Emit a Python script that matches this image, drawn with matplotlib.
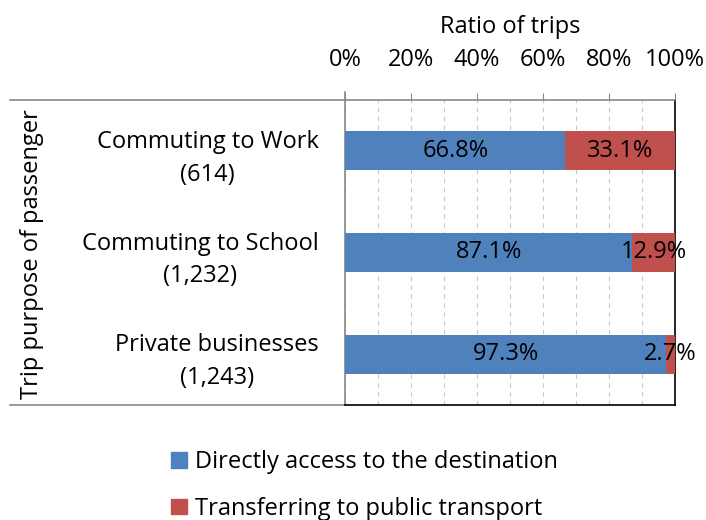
import matplotlib.pyplot as plt
from matplotlib.lines import Line2D
from matplotlib.patches import Patch
import numpy as np

categories = ["Commuting to Work\n(614)", "Commuting to School\n(1,232)", "Private businesses\n(1,243)"]
direct = [66.8, 87.1, 97.3]
transfer = [33.1, 12.9, 2.7]
series_names = ["Directly access to the destination", "Transferring to public transport"]
colors = ["#4F81BD", "#C0504D"]

plt.rcParams['font.family'] = ['Open Sans', 'DejaVu Sans']
fs = 17

fig = plt.figure(figsize=(7.06, 5.2), dpi=100)
ax = fig.add_axes([345 / 706, (520 - 405) / 520, 330 / 706, 305 / 520])

y = np.arange(len(categories))
h = 0.385
ax.barh(y, direct, height=h, color=colors[0], zorder=3)
ax.barh(y, transfer, left=direct, height=h, color=colors[1], zorder=3)

for i in range(len(categories)):
    ax.text(direct[i] / 2, y[i], f"{direct[i]:.1f}%", ha='center', va='center', fontsize=fs, zorder=4)
    ax.text(direct[i] + transfer[i] / 2, y[i], f"{transfer[i]:.1f}%", ha='center', va='center',
            fontsize=fs, zorder=4)

ax.set_xlim(0, 100)
ax.set_ylim(len(categories) - 0.5, -0.5)
ax.xaxis.tick_top()
ax.xaxis.set_label_position('top')
ax.set_xticks(np.arange(0, 101, 20))
ax.set_xticklabels([f"{v}%" for v in range(0, 101, 20)], fontsize=fs)
ax.set_xticks(np.arange(0, 101, 10), minor=True)
ax.tick_params(axis='x', which='major', length=5, color='#888888', pad=15)
ax.tick_params(axis='x', which='minor', length=0)
ax.grid(axis='x', which='both', linestyle=(0, (4, 4)), color='#C8C8C8', linewidth=0.8, zorder=0)
ax.set_xlabel("Ratio of trips", fontsize=fs, labelpad=11)

ax.set_yticks(y)
ax.set_yticklabels(categories, fontsize=fs, linespacing=1.5, ha='right', multialignment='center')
ax.tick_params(axis='y', length=0, pad=19)
fig.text(32 / 706, 1 - 254 / 520, "Trip purpose of passenger", rotation=90, fontsize=fs,
         ha='center', va='center')

ax.spines['top'].set_color('#888888')
ax.spines['left'].set_color('#888888')
ax.spines['right'].set_color('black')
ax.spines['bottom'].set_color('black')
for s in ax.spines.values():
    s.set_linewidth(1.2)

# table-like lines at the left
for yy in (0, 1):
    ax.add_line(Line2D([-1.015, 0], [yy, yy], transform=ax.transAxes, color='#888888',
                       linewidth=1.2, clip_on=False))
ax.add_line(Line2D([0, 0], [1, 1.025], transform=ax.transAxes, color='#888888',
                   linewidth=1.2, clip_on=False))

handles = [Patch(color=c) for c in colors]
fig.legend(handles, series_names, loc='upper left', bbox_to_anchor=(162 / 706, 1 - 441 / 520),
           frameon=False, fontsize=fs, handlelength=0.65, handleheight=0.65,
           handletextpad=0.35, labelspacing=0.95, borderaxespad=0)

fig.savefig("out.png", dpi=100)
